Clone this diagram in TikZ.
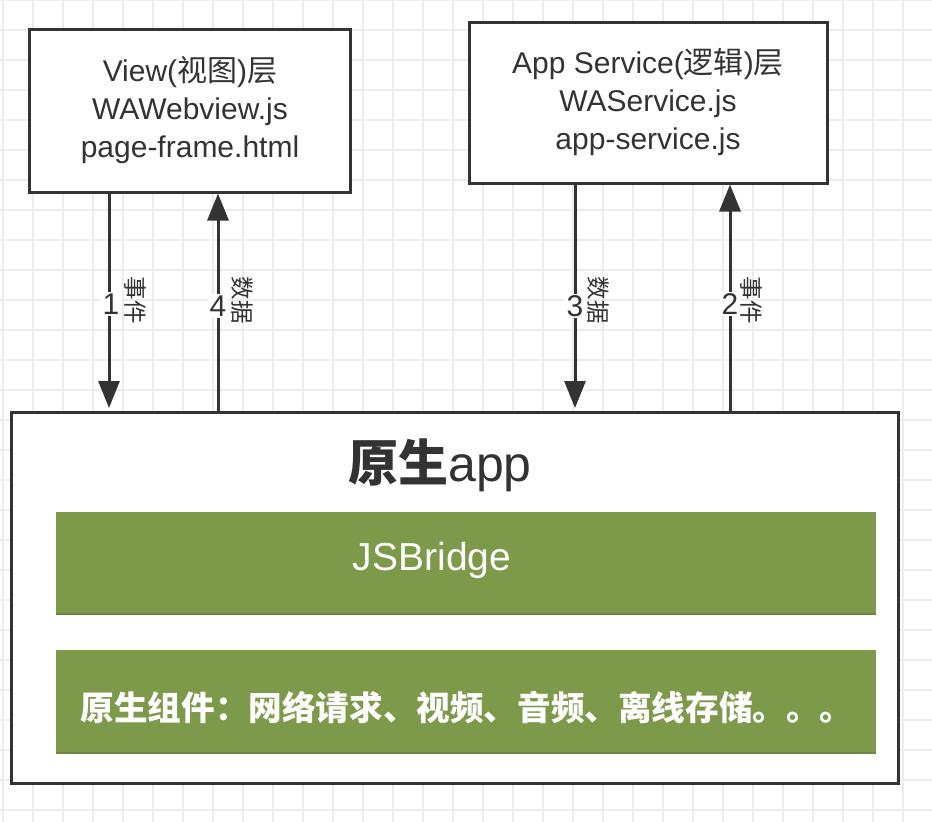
\documentclass[tikz,border=0pt]{standalone}
\usepackage{fontspec}
\setmainfont{Liberation Sans}
\newfontfamily\cjk{Noto Sans CJK SC}
\usetikzlibrary{arrows.meta,calc}
\definecolor{ink}{HTML}{333333}
\definecolor{barg}{HTML}{7D9A4B}
\definecolor{bardark}{HTML}{6A8540}
\definecolor{gridc}{HTML}{ECECEC}
\tikzset{
  layerbox/.style={draw=ink,line width=3pt,fill=white,rectangle,inner sep=0pt,
    text=ink,align=center,font=\fontsize{30}{38}\selectfont},
  greenbar/.style={fill=barg,draw=none,rectangle,inner sep=0pt,text=white},
  flow/.style={draw=ink,line width=3pt,-{Triangle[length=27pt,width=21pt]}},
  numlab/.style={fill=white,inner sep=1.5pt,text=ink,font=\fontsize{30}{30}\selectfont},
  wordlab/.style={rotate=-90,inner sep=0pt,text=ink,font=\cjk\fontsize{23.5}{23.5}\selectfont}
}
\begin{document}
\begin{tikzpicture}[x=1pt,y=-1pt]
\useasboundingbox (0,0) rectangle (932,822);
\fill[white] (0,0) rectangle (932,822);
% grid
\foreach \gx in {3,33,...,933} \draw[gridc,line width=1.4pt] (\gx,0) -- (\gx,822);
\foreach \gy in {0,30,...,822} \draw[gridc,line width=1.4pt] (0,\gy) -- (932,\gy);

% boxes
\node[layerbox,minimum width=321pt,minimum height=163pt] (view) at (190,110.5)
  {View({\cjk 视图}){\cjk 层}\\WAWebview.js\\page-frame.html};
\node[layerbox,minimum width=358pt,minimum height=161pt] (svc) at (648,102.5)
  {App Service({\cjk 逻辑}){\cjk 层}\\WAService.js\\app-service.js};
\node[layerbox,minimum width=887pt,minimum height=371pt] (app) at (455,598) {};
\node[text=ink,font=\fontsize{50}{50}\selectfont] (apptitle) at (440,465) {{\cjk\bfseries 原生}app};

\node[greenbar,minimum width=820pt,minimum height=101pt] (bridge) at (466,562.5) {};
\node[greenbar,minimum width=820pt,minimum height=102pt] (native) at (466,701) {};
\draw[bardark,line width=2pt] ([yshift=-1pt]bridge.south west) -- ([yshift=-1pt]bridge.south east);
\draw[bardark,line width=2pt] ([yshift=-1pt]native.south west) -- ([yshift=-1pt]native.south east);
\node[text=white,font=\fontsize{39}{39}\selectfont] (bridgetxt) at (432,560) {JSBridge};
\node[text=white,font=\cjk\fontsize{33.6}{33.6}\selectfont\bfseries] (nativetxt) at (467,708)
  {原生组件：网络请求、视频、音频、离线存储。。。};

% arrow columns
\coordinate (c1) at (109,0);
\coordinate (c4) at (218,0);
\coordinate (c3) at (575,0);
\coordinate (c2) at (730,0);

\draw[flow] (c1 |- view.south) -- ([yshift=3pt]c1 |- app.north);
\draw[flow] (c4 |- app.north) -- (c4 |- view.south);
\draw[flow] (c3 |- svc.south) -- ([yshift=3pt]c3 |- app.north);
\draw[flow] (c2 |- app.north) -- (c2 |- svc.south);

% labels
\node[numlab] (n1) at (111,304) {1};
\node[wordlab] (w1) at (135,300) {事件};
\node[numlab] (n4) at (218,306) {4};
\node[wordlab] (w4) at (242,300) {数据};
\node[numlab] (n3) at (575,306) {3};
\node[wordlab] (w3) at (598,300) {数据};
\node[numlab] (n2) at (730,304) {2};
\node[wordlab] (w2) at (751,300) {事件};
\end{tikzpicture}
\end{document}
